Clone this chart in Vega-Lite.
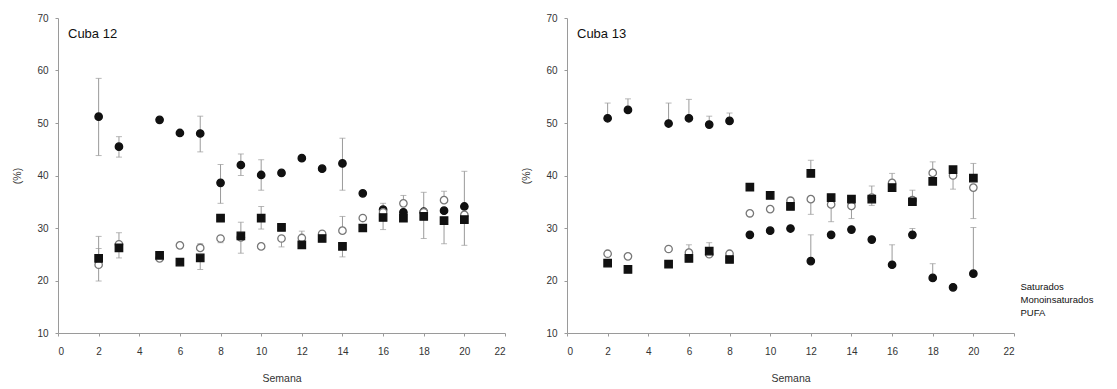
{
  "$schema": "https://vega.github.io/schema/vega-lite/v6.json",
  "background": "white",
  "padding": {"left": 12, "top": 13, "right": 0, "bottom": 0},
  "bounds": "flush",
  "spacing": 62,
  "config": {
    "view": {"stroke": null},
    "font": "Liberation Sans",
    "axis": {
      "grid": false,
      "domainColor": "#9a9a9a",
      "tickColor": "#9a9a9a",
      "tickSize": 3,
      "labelFontSize": 10,
      "labelColor": "#333",
      "titleFontSize": 10.5,
      "titleFontWeight": "normal",
      "titleColor": "#333"
    },
    "axisY": {"labelPadding": 7, "titlePadding": 14},
    "axisX": {"labelPadding": 10, "titlePadding": 17}
  },
  "datasets": {
    "d": [
      {"panel":"Cuba 12","serie":"Saturados","semana":2,"valor":51.2,"lo":43.8,"hi":58.5},
      {"panel":"Cuba 12","serie":"Saturados","semana":3,"valor":45.5,"lo":43.5,"hi":47.4},
      {"panel":"Cuba 12","serie":"Saturados","semana":5,"valor":50.6,"lo":null,"hi":null},
      {"panel":"Cuba 12","serie":"Saturados","semana":6,"valor":48.1,"lo":null,"hi":null},
      {"panel":"Cuba 12","serie":"Saturados","semana":7,"valor":48.0,"lo":44.5,"hi":51.3},
      {"panel":"Cuba 12","serie":"Saturados","semana":8,"valor":38.6,"lo":34.7,"hi":42.1},
      {"panel":"Cuba 12","serie":"Saturados","semana":9,"valor":42.0,"lo":40.0,"hi":44.1},
      {"panel":"Cuba 12","serie":"Saturados","semana":10,"valor":40.1,"lo":37.2,"hi":43.0},
      {"panel":"Cuba 12","serie":"Saturados","semana":11,"valor":40.5,"lo":null,"hi":null},
      {"panel":"Cuba 12","serie":"Saturados","semana":12,"valor":43.3,"lo":null,"hi":null},
      {"panel":"Cuba 12","serie":"Saturados","semana":13,"valor":41.3,"lo":null,"hi":null},
      {"panel":"Cuba 12","serie":"Saturados","semana":14,"valor":42.3,"lo":37.2,"hi":47.1},
      {"panel":"Cuba 12","serie":"Saturados","semana":15,"valor":36.6,"lo":null,"hi":null},
      {"panel":"Cuba 12","serie":"Saturados","semana":16,"valor":33.5,"lo":null,"hi":null},
      {"panel":"Cuba 12","serie":"Saturados","semana":17,"valor":33.0,"lo":null,"hi":null},
      {"panel":"Cuba 12","serie":"Saturados","semana":18,"valor":33.1,"lo":28.0,"hi":36.8},
      {"panel":"Cuba 12","serie":"Saturados","semana":19,"valor":33.3,"lo":null,"hi":null},
      {"panel":"Cuba 12","serie":"Saturados","semana":20,"valor":34.1,"lo":26.7,"hi":40.8},
      {"panel":"Cuba 12","serie":"Monoinsaturados","semana":2,"valor":23.0,"lo":19.9,"hi":26.1},
      {"panel":"Cuba 12","serie":"Monoinsaturados","semana":3,"valor":26.9,"lo":24.3,"hi":29.1},
      {"panel":"Cuba 12","serie":"Monoinsaturados","semana":5,"valor":24.2,"lo":null,"hi":null},
      {"panel":"Cuba 12","serie":"Monoinsaturados","semana":6,"valor":26.7,"lo":null,"hi":null},
      {"panel":"Cuba 12","serie":"Monoinsaturados","semana":7,"valor":26.2,"lo":26.2,"hi":27.0},
      {"panel":"Cuba 12","serie":"Monoinsaturados","semana":8,"valor":28.0,"lo":27.2,"hi":28.0},
      {"panel":"Cuba 12","serie":"Monoinsaturados","semana":9,"valor":28.2,"lo":25.2,"hi":31.1},
      {"panel":"Cuba 12","serie":"Monoinsaturados","semana":10,"valor":26.5,"lo":null,"hi":null},
      {"panel":"Cuba 12","serie":"Monoinsaturados","semana":11,"valor":28.0,"lo":26.4,"hi":28.0},
      {"panel":"Cuba 12","serie":"Monoinsaturados","semana":12,"valor":28.1,"lo":28.1,"hi":29.4},
      {"panel":"Cuba 12","serie":"Monoinsaturados","semana":13,"valor":28.9,"lo":null,"hi":null},
      {"panel":"Cuba 12","serie":"Monoinsaturados","semana":14,"valor":29.5,"lo":29.5,"hi":32.2},
      {"panel":"Cuba 12","serie":"Monoinsaturados","semana":15,"valor":31.9,"lo":null,"hi":null},
      {"panel":"Cuba 12","serie":"Monoinsaturados","semana":16,"valor":33.0,"lo":null,"hi":null},
      {"panel":"Cuba 12","serie":"Monoinsaturados","semana":17,"valor":34.7,"lo":34.7,"hi":36.2},
      {"panel":"Cuba 12","serie":"Monoinsaturados","semana":18,"valor":33.0,"lo":null,"hi":null},
      {"panel":"Cuba 12","serie":"Monoinsaturados","semana":19,"valor":35.3,"lo":35.3,"hi":37.0},
      {"panel":"Cuba 12","serie":"Monoinsaturados","semana":20,"valor":32.5,"lo":null,"hi":null},
      {"panel":"Cuba 12","serie":"PUFA","semana":2,"valor":24.2,"lo":24.2,"hi":28.4},
      {"panel":"Cuba 12","serie":"PUFA","semana":3,"valor":26.2,"lo":null,"hi":null},
      {"panel":"Cuba 12","serie":"PUFA","semana":5,"valor":24.8,"lo":null,"hi":null},
      {"panel":"Cuba 12","serie":"PUFA","semana":6,"valor":23.5,"lo":null,"hi":null},
      {"panel":"Cuba 12","serie":"PUFA","semana":7,"valor":24.3,"lo":22.1,"hi":24.3},
      {"panel":"Cuba 12","serie":"PUFA","semana":8,"valor":31.9,"lo":null,"hi":null},
      {"panel":"Cuba 12","serie":"PUFA","semana":9,"valor":28.5,"lo":null,"hi":null},
      {"panel":"Cuba 12","serie":"PUFA","semana":10,"valor":31.9,"lo":29.8,"hi":34.1},
      {"panel":"Cuba 12","serie":"PUFA","semana":11,"valor":30.1,"lo":null,"hi":null},
      {"panel":"Cuba 12","serie":"PUFA","semana":12,"valor":26.8,"lo":null,"hi":null},
      {"panel":"Cuba 12","serie":"PUFA","semana":13,"valor":28.0,"lo":null,"hi":null},
      {"panel":"Cuba 12","serie":"PUFA","semana":14,"valor":26.5,"lo":24.5,"hi":26.5},
      {"panel":"Cuba 12","serie":"PUFA","semana":15,"valor":30.0,"lo":null,"hi":null},
      {"panel":"Cuba 12","serie":"PUFA","semana":16,"valor":32.0,"lo":29.7,"hi":34.7},
      {"panel":"Cuba 12","serie":"PUFA","semana":17,"valor":31.9,"lo":null,"hi":null},
      {"panel":"Cuba 12","serie":"PUFA","semana":18,"valor":32.2,"lo":null,"hi":null},
      {"panel":"Cuba 12","serie":"PUFA","semana":19,"valor":31.4,"lo":27.0,"hi":31.4},
      {"panel":"Cuba 12","serie":"PUFA","semana":20,"valor":31.6,"lo":null,"hi":null},
      {"panel":"Cuba 13","serie":"Saturados","semana":2,"valor":50.9,"lo":50.9,"hi":53.8},
      {"panel":"Cuba 13","serie":"Saturados","semana":3,"valor":52.5,"lo":52.5,"hi":54.6},
      {"panel":"Cuba 13","serie":"Saturados","semana":5,"valor":49.9,"lo":49.9,"hi":53.8},
      {"panel":"Cuba 13","serie":"Saturados","semana":6,"valor":50.9,"lo":50.9,"hi":54.5},
      {"panel":"Cuba 13","serie":"Saturados","semana":7,"valor":49.7,"lo":49.7,"hi":51.3},
      {"panel":"Cuba 13","serie":"Saturados","semana":8,"valor":50.4,"lo":50.4,"hi":51.9},
      {"panel":"Cuba 13","serie":"Saturados","semana":9,"valor":28.7,"lo":null,"hi":null},
      {"panel":"Cuba 13","serie":"Saturados","semana":10,"valor":29.5,"lo":null,"hi":null},
      {"panel":"Cuba 13","serie":"Saturados","semana":11,"valor":29.9,"lo":null,"hi":null},
      {"panel":"Cuba 13","serie":"Saturados","semana":12,"valor":23.7,"lo":23.7,"hi":28.7},
      {"panel":"Cuba 13","serie":"Saturados","semana":13,"valor":28.7,"lo":null,"hi":null},
      {"panel":"Cuba 13","serie":"Saturados","semana":14,"valor":29.7,"lo":null,"hi":null},
      {"panel":"Cuba 13","serie":"Saturados","semana":15,"valor":27.8,"lo":null,"hi":null},
      {"panel":"Cuba 13","serie":"Saturados","semana":16,"valor":23.0,"lo":23.0,"hi":26.8},
      {"panel":"Cuba 13","serie":"Saturados","semana":17,"valor":28.7,"lo":28.7,"hi":29.9},
      {"panel":"Cuba 13","serie":"Saturados","semana":18,"valor":20.5,"lo":20.5,"hi":23.2},
      {"panel":"Cuba 13","serie":"Saturados","semana":19,"valor":18.7,"lo":null,"hi":null},
      {"panel":"Cuba 13","serie":"Saturados","semana":20,"valor":21.3,"lo":21.3,"hi":30.1},
      {"panel":"Cuba 13","serie":"Monoinsaturados","semana":2,"valor":25.1,"lo":null,"hi":null},
      {"panel":"Cuba 13","serie":"Monoinsaturados","semana":3,"valor":24.6,"lo":null,"hi":null},
      {"panel":"Cuba 13","serie":"Monoinsaturados","semana":5,"valor":26.0,"lo":null,"hi":null},
      {"panel":"Cuba 13","serie":"Monoinsaturados","semana":6,"valor":25.3,"lo":25.3,"hi":26.8},
      {"panel":"Cuba 13","serie":"Monoinsaturados","semana":7,"valor":25.0,"lo":null,"hi":null},
      {"panel":"Cuba 13","serie":"Monoinsaturados","semana":8,"valor":25.1,"lo":null,"hi":null},
      {"panel":"Cuba 13","serie":"Monoinsaturados","semana":9,"valor":32.8,"lo":null,"hi":null},
      {"panel":"Cuba 13","serie":"Monoinsaturados","semana":10,"valor":33.6,"lo":null,"hi":null},
      {"panel":"Cuba 13","serie":"Monoinsaturados","semana":11,"valor":35.2,"lo":null,"hi":null},
      {"panel":"Cuba 13","serie":"Monoinsaturados","semana":12,"valor":35.5,"lo":32.6,"hi":35.5},
      {"panel":"Cuba 13","serie":"Monoinsaturados","semana":13,"valor":34.5,"lo":31.2,"hi":34.5},
      {"panel":"Cuba 13","serie":"Monoinsaturados","semana":14,"valor":34.2,"lo":31.8,"hi":34.2},
      {"panel":"Cuba 13","serie":"Monoinsaturados","semana":15,"valor":35.8,"lo":34.3,"hi":38.0},
      {"panel":"Cuba 13","serie":"Monoinsaturados","semana":16,"valor":38.6,"lo":null,"hi":null},
      {"panel":"Cuba 13","serie":"Monoinsaturados","semana":17,"valor":35.3,"lo":35.3,"hi":37.2},
      {"panel":"Cuba 13","serie":"Monoinsaturados","semana":18,"valor":40.5,"lo":40.5,"hi":42.6},
      {"panel":"Cuba 13","serie":"Monoinsaturados","semana":19,"valor":40.0,"lo":37.4,"hi":40.0},
      {"panel":"Cuba 13","serie":"Monoinsaturados","semana":20,"valor":37.7,"lo":31.8,"hi":37.7},
      {"panel":"Cuba 13","serie":"PUFA","semana":2,"valor":23.3,"lo":null,"hi":null},
      {"panel":"Cuba 13","serie":"PUFA","semana":3,"valor":22.1,"lo":null,"hi":null},
      {"panel":"Cuba 13","serie":"PUFA","semana":5,"valor":23.1,"lo":null,"hi":null},
      {"panel":"Cuba 13","serie":"PUFA","semana":6,"valor":24.2,"lo":null,"hi":null},
      {"panel":"Cuba 13","serie":"PUFA","semana":7,"valor":25.6,"lo":25.6,"hi":27.2},
      {"panel":"Cuba 13","serie":"PUFA","semana":8,"valor":24.0,"lo":null,"hi":null},
      {"panel":"Cuba 13","serie":"PUFA","semana":9,"valor":37.8,"lo":null,"hi":null},
      {"panel":"Cuba 13","serie":"PUFA","semana":10,"valor":36.2,"lo":null,"hi":null},
      {"panel":"Cuba 13","serie":"PUFA","semana":11,"valor":34.1,"lo":null,"hi":null},
      {"panel":"Cuba 13","serie":"PUFA","semana":12,"valor":40.4,"lo":40.4,"hi":42.9},
      {"panel":"Cuba 13","serie":"PUFA","semana":13,"valor":35.8,"lo":null,"hi":null},
      {"panel":"Cuba 13","serie":"PUFA","semana":14,"valor":35.5,"lo":null,"hi":null},
      {"panel":"Cuba 13","serie":"PUFA","semana":15,"valor":35.5,"lo":null,"hi":null},
      {"panel":"Cuba 13","serie":"PUFA","semana":16,"valor":37.7,"lo":37.7,"hi":40.4},
      {"panel":"Cuba 13","serie":"PUFA","semana":17,"valor":35.0,"lo":null,"hi":null},
      {"panel":"Cuba 13","serie":"PUFA","semana":18,"valor":38.9,"lo":null,"hi":null},
      {"panel":"Cuba 13","serie":"PUFA","semana":19,"valor":41.1,"lo":null,"hi":null},
      {"panel":"Cuba 13","serie":"PUFA","semana":20,"valor":39.5,"lo":39.5,"hi":42.3}
    ]
  },
  "hconcat": [
    {
      "width": 447,
      "height": 315,
      "title": {"text": "Cuba 12", "anchor": "start", "frame": "group", "offset": -38, "dx": 10, "fontSize": 13, "fontWeight": "normal", "baseline": "alphabetic", "color": "#111"},
      "data": {"name": "d"},
      "transform": [{"filter": "datum.panel == 'Cuba 12'"}],
      "layer": [
        {
          "transform": [{"filter": "datum.hi != null"}],
          "mark": {"type": "errorbar", "color": "#9a9a9a", "thickness": 1, "ticks": {"size": 6, "color": "#9a9a9a"}},
          "encoding": {
            "x": {"field": "semana", "type": "quantitative", "scale": {"domain": [0, 22]}, "axis": {"values": [0,2,4,6,8,10,12,14,16,18,20,22]}, "title": "Semana"},
            "y": {"field": "lo", "type": "quantitative", "scale": {"domain": [10, 70]}, "title": "(%)"},
            "y2": {"field": "hi"}
          }
        },
        {
          "mark": {"type": "point", "size": 55, "strokeWidth": 1.3, "opacity": 1, "filled": false},
          "encoding": {
            "x": {"field": "semana", "type": "quantitative", "scale": {"domain": [0, 22]}, "axis": {"values": [0,2,4,6,8,10,12,14,16,18,20,22]}, "title": "Semana"},
            "y": {"field": "valor", "type": "quantitative", "scale": {"domain": [10, 70]}, "axis": {"values": [10,20,30,40,50,60,70]}, "title": "(%)"},
            "shape": {"field": "serie", "type": "nominal", "scale": {"domain": ["Saturados", "Monoinsaturados", "PUFA"], "range": ["circle", "circle", "square"]}, "legend": {"orient": "none", "legendX": 953, "legendY": 264, "title": null, "symbolOpacity": 0, "symbolSize": 0, "symbolStrokeWidth": 0, "labelOffset": 0, "labelFontSize": 9.5, "labelColor": "#111", "rowPadding": 2}},
            "fill": {"field": "serie", "type": "nominal", "scale": {"domain": ["Saturados", "Monoinsaturados", "PUFA"], "range": ["#111", "#ffffff", "#111"]}, "legend": null},
            "stroke": {"field": "serie", "type": "nominal", "scale": {"domain": ["Saturados", "Monoinsaturados", "PUFA"], "range": ["#111", "#777", "#111"]}, "legend": null}
          }
        }
      ]
    },
    {
      "width": 447,
      "height": 315,
      "title": {"text": "Cuba 13", "anchor": "start", "frame": "group", "offset": -38, "dx": 10, "fontSize": 13, "fontWeight": "normal", "baseline": "alphabetic", "color": "#111"},
      "data": {"name": "d"},
      "transform": [{"filter": "datum.panel == 'Cuba 13'"}],
      "layer": [
        {
          "transform": [{"filter": "datum.hi != null"}],
          "mark": {"type": "errorbar", "color": "#9a9a9a", "thickness": 1, "ticks": {"size": 6, "color": "#9a9a9a"}},
          "encoding": {
            "x": {"field": "semana", "type": "quantitative", "scale": {"domain": [0, 22]}, "axis": {"values": [0,2,4,6,8,10,12,14,16,18,20,22]}, "title": "Semana"},
            "y": {"field": "lo", "type": "quantitative", "scale": {"domain": [10, 70]}, "title": "(%)"},
            "y2": {"field": "hi"}
          }
        },
        {
          "mark": {"type": "point", "size": 55, "strokeWidth": 1.3, "opacity": 1, "filled": false},
          "encoding": {
            "x": {"field": "semana", "type": "quantitative", "scale": {"domain": [0, 22]}, "axis": {"values": [0,2,4,6,8,10,12,14,16,18,20,22]}, "title": "Semana"},
            "y": {"field": "valor", "type": "quantitative", "scale": {"domain": [10, 70]}, "axis": {"values": [10,20,30,40,50,60,70]}, "title": "(%)"},
            "shape": {"field": "serie", "type": "nominal", "scale": {"domain": ["Saturados", "Monoinsaturados", "PUFA"], "range": ["circle", "circle", "square"]}, "legend": {"orient": "none", "legendX": 953, "legendY": 264, "title": null, "symbolOpacity": 0, "symbolSize": 0, "symbolStrokeWidth": 0, "labelOffset": 0, "labelFontSize": 9.5, "labelColor": "#111", "rowPadding": 2}},
            "fill": {"field": "serie", "type": "nominal", "scale": {"domain": ["Saturados", "Monoinsaturados", "PUFA"], "range": ["#111", "#ffffff", "#111"]}, "legend": null},
            "stroke": {"field": "serie", "type": "nominal", "scale": {"domain": ["Saturados", "Monoinsaturados", "PUFA"], "range": ["#111", "#777", "#111"]}, "legend": null}
          }
        }
      ]
    }
  ]
}
